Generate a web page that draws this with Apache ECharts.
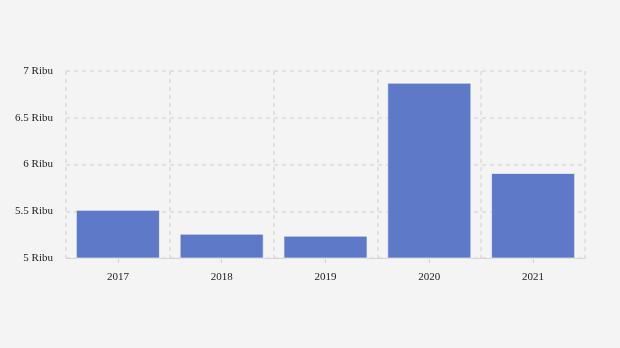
<!DOCTYPE html>
<html><head><meta charset="utf-8">
<script src="https://cdn.jsdelivr.net/npm/echarts@6/dist/echarts.min.js"></script>
<style>html,body{margin:0;padding:0;background:#f4f4f4;}#c{width:620px;height:348px;}</style>
</head><body><div id="c"></div>
<script>
const categories = ['2017', '2018', '2019', '2020', '2021'];
const values = [5515, 5260, 5239, 6875, 5909];
const yTicks = [5000, 5500, 6000, 6500, 7000];

const chart = echarts.init(document.getElementById('c'), null, {renderer: 'canvas'});
chart.setOption({
  backgroundColor: '#f4f4f4',
  animation: false,
  textStyle: {fontFamily: 'Liberation Serif'},
  grid: {left: 66, right: 35, top: 71, bottom: 90},
  xAxis: {
    type: 'category',
    data: categories,
    axisLine: {show: true, lineStyle: {color: '#d6d6d6', width: 1}},
    axisTick: {show: true, alignWithLabel: true, length: 5, lineStyle: {color: '#d6d6d6'}},
    axisLabel: {color: '#222', fontSize: 11, fontFamily: 'Liberation Serif', margin: 14},
    splitLine: {show: true, interval: 0, lineStyle: {color: '#dadada', type: [4, 4], width: 1.5}}
  },
  yAxis: {
    type: 'value',
    min: yTicks[0],
    max: yTicks[yTicks.length - 1],
    interval: 500,
    axisLine: {show: false},
    axisTick: {show: false},
    axisLabel: {
      color: '#222', fontSize: 11, fontFamily: 'Liberation Serif', margin: 13,
      formatter: v => (v / 1000) + ' Ribu'
    },
    splitLine: {show: true, lineStyle: {color: '#dadada', type: [4, 4], width: 1.5}}
  },
  series: [{
    type: 'bar',
    data: values,
    barCategoryGap: '19%',
    itemStyle: {color: '#5f79c9', borderColor: 'rgba(255,255,255,0.6)', borderWidth: 1}
  }]
});
</script></body></html>
